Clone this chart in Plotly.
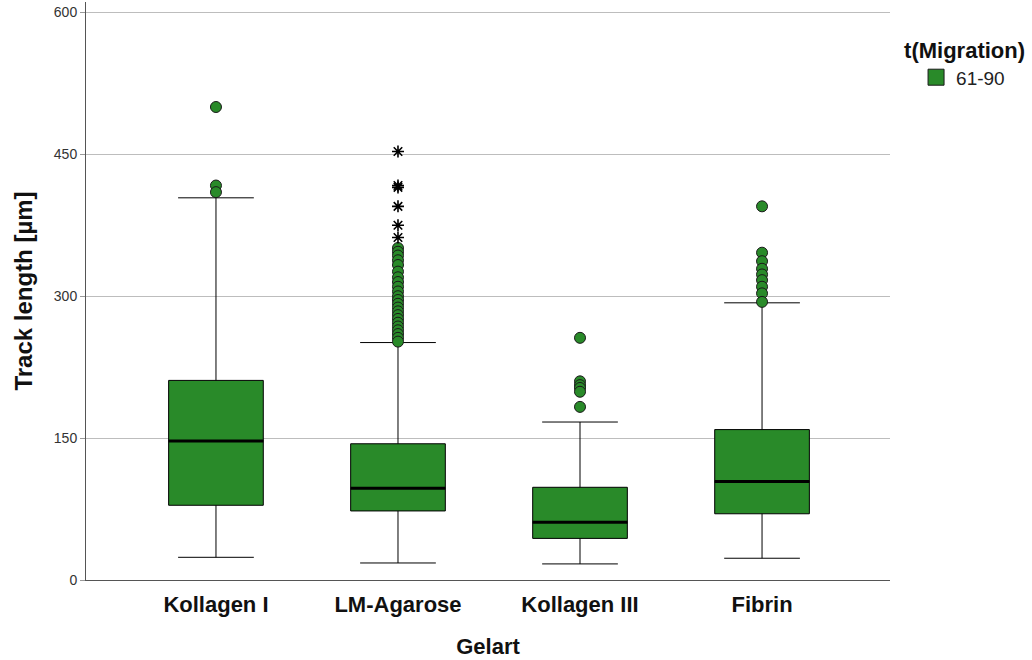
import plotly.graph_objects as go

# Track length per gel type, migration window 61-90
categories = ["Kollagen I", "LM-Agarose", "Kollagen III", "Fibrin"]
q1 = [79, 73, 44, 70]
median = [147, 97, 61, 104]
q3 = [211, 144, 98, 159]
lower_whisker = [24, 18, 17, 23]
upper_whisker = [404, 251, 167, 293]

# Mild outliers (circles) per group
outliers_kol1 = [500, 417, 410]
outliers_lma = [351, 347, 343, 338, 333, 326, 320, 315, 310, 305, 300, 296,
                292, 288, 284, 280, 276, 272, 268, 264, 260, 256, 252]
outliers_kol3 = [256, 210, 206, 203, 199, 183]
outliers_fib = [395, 346, 337, 329, 323, 317, 310, 303, 294]

# Extreme outliers (asterisks), LM-Agarose only
extremes_lma = [453, 417, 415, 395, 375, 362]

y_ticks = [0, 150, 300, 450, 600]

GREEN = "#298A29"
FONT = "Liberation Sans, Arial, sans-serif"

xs = list(range(len(categories)))
box_half = 0.26

fig = go.Figure()

fig.add_trace(go.Box(
    x=xs, q1=q1, median=median, q3=q3,
    lowerfence=lower_whisker, upperfence=upper_whisker,
    width=box_half * 2, whiskerwidth=0.8,
    fillcolor=GREEN, line=dict(color="black", width=1),
    boxpoints=False, name="61-90", showlegend=False,
    hoverinfo="skip",
))

# Heavy median bars
mx, my = [], []
for i, m in zip(xs, median):
    mx += [i - box_half, i + box_half, None]
    my += [m, m, None]
fig.add_trace(go.Scatter(x=mx, y=my, mode="lines",
                         line=dict(color="black", width=3),
                         showlegend=False, hoverinfo="skip"))

# Circle outliers
ox, oy = [], []
for i, vals in zip(xs, [outliers_kol1, outliers_lma, outliers_kol3, outliers_fib]):
    ox += [i] * len(vals)
    oy += vals
fig.add_trace(go.Scatter(x=ox, y=oy, mode="markers",
                         marker=dict(symbol="circle", size=11, color=GREEN,
                                     line=dict(color="#1a1a1a", width=1)),
                         showlegend=False, hoverinfo="skip"))

# Asterisk extremes
fig.add_trace(go.Scatter(x=[1] * len(extremes_lma), y=extremes_lma, mode="markers",
                         marker=dict(symbol="asterisk-open", size=10, color="black",
                                     line=dict(color="black", width=1.6)),
                         showlegend=False, hoverinfo="skip"))

# Legend swatch for the migration window
fig.add_trace(go.Scatter(x=[None], y=[None], mode="markers", name="61-90",
                         marker=dict(symbol="square", size=16, color=GREEN,
                                     line=dict(color="#1a1a1a", width=1)),
                         showlegend=True, hoverinfo="skip"))

fig.update_layout(
    width=1032, height=660,
    margin=dict(l=86, r=142, t=2, b=80),
    paper_bgcolor="white", plot_bgcolor="white",
    font=dict(family=FONT, color="#222222"),
    showlegend=True,
    legend=dict(
        title=dict(text="<b>t(Migration)</b>", font=dict(size=22, color="#111111"), side="top"),
        x=1.015, xanchor="left", y=0.952, yanchor="top",
        font=dict(size=19, color="#222222"),
        bgcolor="rgba(0,0,0,0)", itemsizing="trace", indentation=14,
    ),
    xaxis=dict(
        range=[-0.714, 3.703], tickmode="array", tickvals=xs,
        ticktext=[f"<b>{c}</b>" for c in categories],
        tickfont=dict(size=22, color="#111111"),
        showgrid=False, zeroline=False,
        showline=True, linecolor="#555555", linewidth=1,
        ticks="", ticklen=0, ticklabelstandoff=5,
        title=dict(text="<b>Gelart</b>", font=dict(size=22, color="#111111"), standoff=22),
    ),
    yaxis=dict(
        range=[0, 611], tickmode="array", tickvals=y_ticks,
        tickfont=dict(size=14, color="#333333"),
        showgrid=True, gridcolor="#BDBDBD", gridwidth=1,
        zeroline=False, showline=True, linecolor="#555555", linewidth=1,
        ticks="outside", ticklen=5, tickcolor="#999999",
        title=dict(text="<b>Track length [µm]</b>", font=dict(size=24, color="#111111"), standoff=14),
    ),
)

fig.write_html("out.html")
